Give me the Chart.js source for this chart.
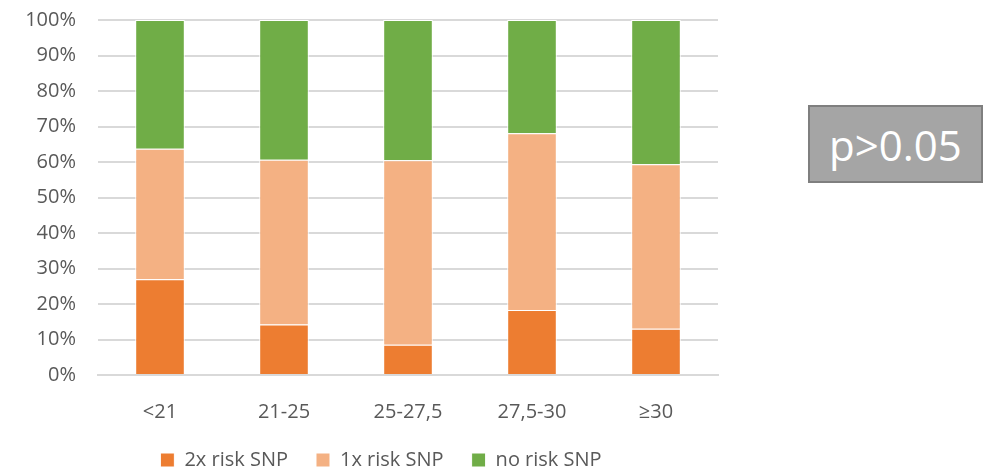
<!DOCTYPE html>
<html>
<head>
<meta charset="utf-8">
<script src="https://cdn.jsdelivr.net/npm/chart.js@4/dist/chart.umd.min.js"></script>
<style>
  html, body { margin: 0; padding: 0; background: #fff; overflow: hidden; }
  #wrap { position: relative; width: 997px; height: 469px; overflow: hidden; }
  #chartBox { position: absolute; left: 0; top: -14px; width: 765px; height: 483px; }
  #pbox {
    position: absolute; left: 808px; top: 105px; width: 171px; height: 74px;
    background: #a5a5a5; border: 2px solid #7f7f7f;
    color: #fff; font-family: "Open Sans", sans-serif; font-size: 42px;
    display: flex; align-items: center; justify-content: center;
  }
</style>
</head>
<body>
<div id="wrap">
  <div id="chartBox"><canvas id="chart"></canvas></div>
  <div id="pbox">p&gt;0.05</div>
</div>
<script>
const categories = ["<21", "21-25", "25-27,5", "27,5-30", "≥30"];
const twoRisk = [27.0, 14.2, 8.5, 18.3, 13.0];
const oneRisk = [36.7, 46.4, 52.0, 49.8, 46.4];
const noRisk = [36.3, 39.4, 39.5, 31.9, 40.6];
const seriesNames = ["2x risk SNP", "1x risk SNP", "no risk SNP"];
const seriesColors = ["#ed7d31", "#f4b183", "#70ad47"];

const font = { family: "'Open Sans', sans-serif", size: 20 };
const textColor = "#595959";

function makeSet(i, values) {
  return {
    label: seriesNames[i],
    data: values,
    backgroundColor: seriesColors[i],
    borderColor: "#ffffff",
    borderWidth: 1,
    barPercentage: 0.4,
    categoryPercentage: 1.0
  };
}

new Chart(document.getElementById("chart"), {
  type: "bar",
  data: {
    labels: categories,
    datasets: [makeSet(0, twoRisk), makeSet(1, oneRisk), makeSet(2, noRisk)]
  },
  options: {
    responsive: true,
    maintainAspectRatio: false,
    animation: false,
    layout: { padding: { top: -6, right: 3, bottom: -11, left: 0 } },
    plugins: {
      tooltip: { enabled: false },
      legend: {
        position: "bottom",
        labels: {
          color: textColor,
          font: { family: font.family, size: 20, lineHeight: 1 },
          boxWidth: 14,
          boxHeight: 14,
          padding: 28
        }
      }
    },
    scales: {
      x: {
        stacked: true,
        afterFit: (scale) => { scale.height = 47; },
        grid: { display: false },
        border: { color: "#d9d9d9", width: 2 },
        ticks: { color: textColor, font: font, padding: 17, maxRotation: 0, autoSkip: false }
      },
      y: {
        stacked: true,
        min: 0,
        max: 100,
        afterFit: (scale) => { scale.width = 98; },
        grid: { color: "#d9d9d9", lineWidth: 2, drawTicks: false },
        border: { display: false },
        ticks: {
          stepSize: 10,
          color: textColor,
          font: font,
          padding: 22,
          callback: (v) => v + "%"
        }
      },
      // empty right-hand axis: keeps the plot narrower than the legend row
      yRight: {
        position: "right",
        display: true,
        afterFit: (scale) => { scale.width = 44; },
        grid: { display: false },
        border: { display: false },
        ticks: { display: false }
      }
    }
  }
});
</script>
</body>
</html>
